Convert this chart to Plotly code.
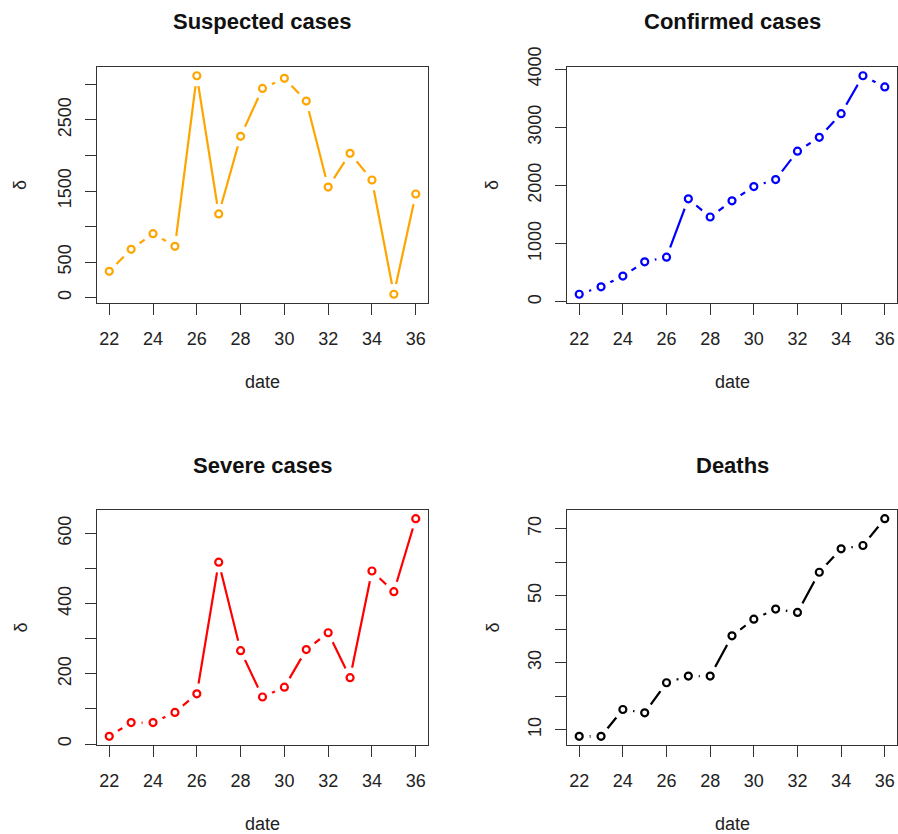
import plotly.graph_objects as go

dates = [22, 23, 24, 25, 26, 27, 28, 29, 30, 31, 32, 33, 34, 35, 36]
suspected = [370, 680, 900, 722, 3122, 1177, 2269, 2944, 3085, 2766, 1556, 2030, 1655, 47, 1458]
confirmed = [131, 259, 444, 688, 769, 1771, 1459, 1737, 1982, 2102, 2590, 2829, 3235, 3887, 3694]
severe = [22, 61, 61, 90, 143, 518, 266, 134, 162, 269, 317, 189, 493, 434, 642]
deaths = [8, 8, 16, 15, 24, 26, 26, 38, 43, 46, 45, 57, 64, 65, 73]

titles = ["Suspected cases", "Confirmed cases", "Severe cases", "Deaths"]
colors = ["#FFA500", "#0000FF", "#FF0000", "#000000"]
xtick_vals = [22, 24, 26, 28, 30, 32, 34, 36]
ytick_vals = [
    [0, 500, 1000, 1500, 2000, 2500, 3000],
    [0, 1000, 2000, 3000, 4000],
    [0, 100, 200, 300, 400, 500, 600],
    [10, 20, 30, 40, 50, 60, 70],
]
ytick_text = [
    ["0", "500", "", "1500", "", "2500", ""],
    ["0", "1000", "2000", "3000", "4000"],
    ["0", "", "200", "", "400", "", "600"],
    ["10", "", "30", "", "50", "", "70"],
]
series = [suspected, confirmed, severe, deaths]

W, H = 898, 834
xdom = [(97 / W, 428 / W), (567 / W, 897 / W)]
ydom = [(1 - 303 / H, 1 - 67 / H), (1 - 745 / H, 1 - 510 / H)]

FONT = "Liberation Sans, Arial, sans-serif"
fig = go.Figure()
layout = dict(
    width=W, height=H, margin=dict(l=0, r=0, t=0, b=0, pad=0, autoexpand=False),
    paper_bgcolor="white", plot_bgcolor="white", showlegend=False,
    font=dict(family=FONT, size=18, color="#222"),
)
annotations = []

def rng(v):
    lo, hi = min(v), max(v)
    d = (hi - lo) * 0.04
    return [lo - d, hi + d]

for i in range(4):
    r, c = divmod(i, 2)
    n = i + 1
    xa = "x" if n == 1 else f"x{n}"
    ya = "y" if n == 1 else f"y{n}"
    vals = series[i]
    col = colors[i]
    fig.add_trace(go.Scatter(x=dates, y=vals, mode="lines", xaxis=xa, yaxis=ya,
                             line=dict(color=col, width=2.2), hoverinfo="skip"))
    fig.add_trace(go.Scatter(x=dates, y=vals, mode="markers", xaxis=xa, yaxis=ya,
                             marker=dict(symbol="circle", size=21, color="white", line=dict(width=0)),
                             hoverinfo="skip"))
    fig.add_trace(go.Scatter(x=dates, y=vals, mode="markers", xaxis=xa, yaxis=ya,
                             marker=dict(symbol="circle-open", size=7, color=col, line=dict(width=2.2, color=col))))
    axkey = "xaxis" if n == 1 else f"xaxis{n}"
    aykey = "yaxis" if n == 1 else f"yaxis{n}"
    layout[axkey] = dict(
        domain=list(xdom[c]), anchor=ya, range=rng(dates), automargin=False,
        tickmode="array", tickvals=xtick_vals, ticktext=[str(v) for v in xtick_vals],
        ticks="outside", ticklen=11, tickwidth=1, tickcolor="#333", ticklabelstandoff=8,
        showline=True, linecolor="#333", linewidth=1.3, mirror=True,
        showgrid=False, zeroline=False, tickfont=dict(size=18, color="#222"),
    )
    layout[aykey] = dict(
        domain=list(ydom[r]), anchor=xa, range=rng(vals), automargin=False,
        tickmode="array", tickvals=ytick_vals[i], ticktext=ytick_text[i],
        ticks="outside", ticklen=11, tickwidth=1, tickcolor="#333", tickangle=-90,
        ticklabelstandoff=7,
        showline=True, linecolor="#333", linewidth=1.3, mirror=True,
        showgrid=False, zeroline=False, tickfont=dict(size=18, color="#222"),
    )
    cx = (xdom[c][0] + xdom[c][1]) / 2
    top_px = 67 if r == 0 else 510
    bot_px = 303 if r == 0 else 745
    annotations.append(dict(text=f"<b>{titles[i]}</b>", x=cx, xref="paper",
                            y=1 - (top_px - 45) / H, yref="paper", showarrow=False,
                            xanchor="center", yanchor="middle",
                            font=dict(size=22, color="#111", family=FONT)))
    annotations.append(dict(text="date", x=cx, xref="paper",
                            y=1 - (bot_px + 79) / H, yref="paper", showarrow=False,
                            xanchor="center", yanchor="middle",
                            font=dict(size=18, color="#222", family=FONT)))
    ylab_x = 20 if c == 0 else 492
    annotations.append(dict(text="δ", x=ylab_x / W, xref="paper",
                            y=1 - ((top_px + bot_px) / 2) / H, yref="paper", showarrow=False,
                            xanchor="center", yanchor="middle", textangle=-90,
                            font=dict(size=18, color="#222", family=FONT)))

layout["annotations"] = annotations
fig.update_layout(**layout)
fig.write_html("out.html")
